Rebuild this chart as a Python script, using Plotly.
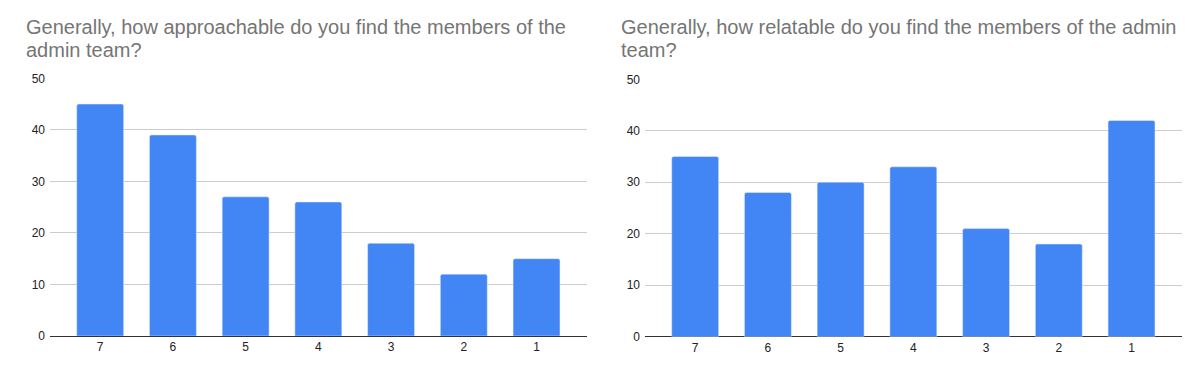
import plotly.graph_objects as go

categories = ["7", "6", "5", "4", "3", "2", "1"]
approachable = [45, 39, 27, 26, 18, 12, 15]
relatable = [35, 28, 30, 33, 21, 18, 42]
title_left = ["Generally, how approachable do you find the members of the", "admin team?"]
title_right = ["Generally, how relatable do you find the members of the admin", "team?"]
y_ticks = [0, 10, 20, 30, 40, 50]

W, H = 1203, 371
BAR = "#4285F4"
FONT = "Liberation Sans, Arial, sans-serif"

fig = go.Figure()
fig.add_trace(go.Bar(x=categories, y=approachable, marker=dict(color=BAR, cornerradius=2),
                     width=0.645, xaxis="x", yaxis="y", showlegend=False, hoverinfo="skip"))
fig.add_trace(go.Bar(x=categories, y=relatable, marker=dict(color=BAR, cornerradius=2),
                     width=0.645, xaxis="x2", yaxis="y2", showlegend=False, hoverinfo="skip"))

def xax(domain, anchor):
    return dict(domain=domain, anchor=anchor, type="category", range=[-0.69, 6.69],
                showgrid=False, showline=False, ticks="", zeroline=False, automargin=False,
                tickfont=dict(family=FONT, size=12, color="#222222"), ticklabelstandoff=2,
                fixedrange=True)

def yax(domain, anchor):
    return dict(domain=domain, anchor=anchor, range=[0, 50], tickvals=y_ticks,
                showgrid=True, gridcolor="#cccccc", gridwidth=1, automargin=False,
                zeroline=True, zerolinecolor="#333333", zerolinewidth=1,
                showline=False, ticks="", ticklabelstandoff=4,
                tickfont=dict(family=FONT, size=12, color="#222222"), fixedrange=True)

fig.update_layout(
    width=W, height=H,
    margin=dict(l=0, r=0, t=0, b=0, pad=0, autoexpand=False),
    paper_bgcolor="white", plot_bgcolor="white",
    xaxis=xax([50 / W, 586.7 / W], "y"),
    yaxis=yax([1 - 336 / H, 1 - 78.3 / H], "x"),
    xaxis2=xax([645 / W, 1181.7 / W], "y2"),
    yaxis2=yax([1 - 336.7 / H, 1 - 79.3 / H], "x2"),
    bargap=0.3,
)

annots = []
for lines, x0 in ((title_left, 24), (title_right, 619)):
    for i, line in enumerate(lines):
        baseline = 34.6 + i * 22.5
        annots.append(dict(text=line, xref="paper", yref="paper", x=x0 / W,
                           y=1 - (baseline - 7.2) / H, xanchor="left", yanchor="middle",
                           showarrow=False, font=dict(family=FONT, size=20, color="#757575")))
fig.update_layout(annotations=annots)

fig.write_html("out.html", config={"displayModeBar": False},
               post_script="document.body.style.margin='0';document.body.style.overflow='hidden';")
